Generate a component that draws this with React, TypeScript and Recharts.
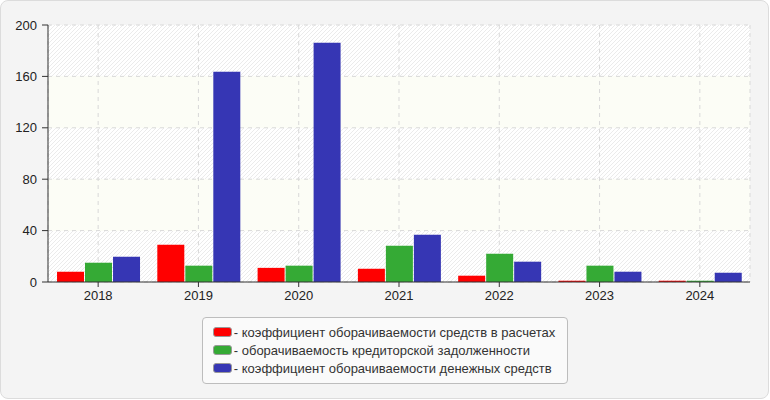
import React from 'react';
import { BarChart, Bar, XAxis, YAxis, CartesianGrid, Legend } from 'recharts';

const years = ['2018', '2019', '2020', '2021', '2022', '2023', '2024'];
const settlementTurnover = [8, 29, 11, 10.3, 4.9, 1, 1];
const payablesTurnover = [15, 12.7, 12.7, 28.2, 22, 12.7, 1];
const cashTurnover = [19.7, 163.7, 186.2, 36.8, 15.8, 8, 7.2];
const yTicks = [0, 40, 80, 120, 160, 200];

const seriesNames = [
  'коэффициент оборачиваемости средств в расчетах',
  'оборачиваемость кредиторской задолженности',
  'коэффициент оборачиваемости денежных средств',
];
const seriesColors = ['#ff0000', '#35aa35', '#3636b4'];

const data = years.map((y, i) => ({
  year: y,
  a: settlementTurnover[i],
  b: payablesTurnover[i],
  c: cashTurnover[i],
}));

const FONT = '"Liberation Sans", Arial, sans-serif';

const LegendContent = () => (
  <div style={{ display: 'flex', justifyContent: 'center' }}>
    <div
      style={{
        border: '1px solid #bdbdbd',
        borderRadius: 4,
        background: '#fafafa',
        padding: '5px 12px 6px 10px',
        fontFamily: FONT,
        fontSize: 13,
        color: '#333',
      }}
    >
      {seriesNames.map((n, i) => (
        <div key={n} style={{ display: 'flex', alignItems: 'center', height: 18 }}>
          <span
            style={{
              display: 'inline-block',
              width: 17,
              height: 8,
              background: seriesColors[i],
              border: '1px solid #999',
              borderRadius: 3,
              marginRight: 2,
            }}
          />
          <span>- {n}</span>
        </div>
      ))}
    </div>
  </div>
);

export default function App() {
  return (
    <div style={{ position: 'absolute', left: 0, top: 0, width: 770, height: 400 }}>
      <div
        style={{
          position: 'absolute',
          left: 0,
          top: 0,
          width: 769,
          height: 399,
          boxSizing: 'border-box',
          border: '1px solid #dcdcdc',
          borderRadius: 8,
          background: '#f4f4f4',
        }}
      />
      <div style={{ position: 'absolute', left: 0, top: 0 }}>
        <BarChart
          width={770}
          height={400}
          data={data}
          margin={{ top: 25, right: 20, left: 0, bottom: 88 }}
          barCategoryGap="9%"
          barGap={1}
        >
          <defs>
            <pattern id="hatch" width="4" height="4" patternUnits="userSpaceOnUse">
              <rect width="4" height="4" fill="#ffffff" />
              <path d="M-1,1 l2,-2 M0,4 l4,-4 M3,5 l2,-2" stroke="#ebebeb" strokeWidth="1" />
            </pattern>
          </defs>
          <CartesianGrid
            stroke="#d9d9d9"
            strokeDasharray="4 4"
            horizontalFill={['url(#hatch)', '#fcfdf6']}
            fillOpacity={1}
          />
          <XAxis
            dataKey="year"
            axisLine={{ stroke: '#333' }}
            tickLine={{ stroke: '#333' }}
            tickSize={5}
            tickMargin={4}
            height={30}
            tick={{ fill: '#222', fontSize: 13, fontFamily: FONT }}
          />
          <XAxis
            xAxisId="top"
            dataKey="year"
            orientation="top"
            height={0}
            tick={false}
            tickLine={false}
            axisLine={{ stroke: '#dddddd' }}
          />
          <YAxis
            domain={[0, 200]}
            ticks={yTicks}
            width={48}
            axisLine={{ stroke: '#333' }}
            tickLine={{ stroke: '#333' }}
            tickSize={6}
            tickMargin={5}
            tick={{ fill: '#222', fontSize: 13, fontFamily: FONT }}
          />
          <YAxis
            yAxisId="right"
            orientation="right"
            domain={[0, 200]}
            width={0}
            tick={false}
            tickLine={false}
            axisLine={{ stroke: '#dddddd' }}
          />
          <Legend
            layout="horizontal"
            verticalAlign="middle"
            align="center"
            content={<LegendContent />}
            wrapperStyle={{ top: 317, left: 0, width: 770 }}
          />
          <Bar dataKey="a" name={seriesNames[0]} fill={seriesColors[0]} isAnimationActive={false} />
          <Bar dataKey="b" name={seriesNames[1]} fill={seriesColors[1]} isAnimationActive={false} />
          <Bar dataKey="c" name={seriesNames[2]} fill={seriesColors[2]} isAnimationActive={false} />
        </BarChart>
      </div>
    </div>
  );
}
